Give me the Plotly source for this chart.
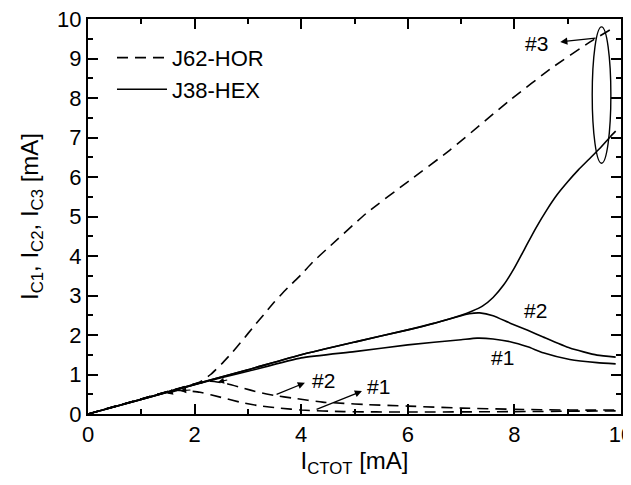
import plotly.graph_objects as go

# ---- data ----
# J38-HEX (solid)
hex3_x = [0, 1, 2, 3, 4, 5, 6, 6.5, 7.0, 7.2, 7.4, 7.6, 7.8, 8.0, 8.2, 8.4, 8.6, 8.8, 9.0, 9.2, 9.4, 9.6, 9.8, 9.9]
hex3_y = [0, 0.37, 0.75, 1.12, 1.5, 1.82, 2.13, 2.3, 2.5, 2.6, 2.73, 2.95, 3.27, 3.7, 4.2, 4.7, 5.15, 5.55, 5.88, 6.18, 6.45, 6.72, 7.02, 7.16]
hex2_x = [0, 1, 2, 3, 4, 5, 6, 6.5, 7.0, 7.15, 7.35, 7.6, 7.92, 8.25, 8.54, 9.04, 9.55, 9.9]
hex2_y = [0, 0.37, 0.75, 1.12, 1.5, 1.82, 2.13, 2.3, 2.49, 2.54, 2.56, 2.49, 2.3, 2.12, 1.95, 1.67, 1.49, 1.44]
hex1_x = [0, 1, 2, 2.5, 3, 4, 5, 6, 7, 7.3, 7.6, 7.92, 8.25, 8.54, 9.04, 9.55, 9.9]
hex1_y = [0, 0.37, 0.74, 0.92, 1.08, 1.42, 1.58, 1.75, 1.88, 1.92, 1.9, 1.83, 1.7, 1.55, 1.38, 1.3, 1.27]

# J62-HOR (dashed)
hor3_x = [0, 1, 1.9, 2.1, 2.3, 2.5, 2.7, 2.9, 3.1, 3.3, 3.5, 3.75, 4.0, 4.22, 4.5, 5.23, 6.04, 6.79, 7.92, 8.72, 9.42, 9.79]
hor3_y = [0, 0.38, 0.72, 0.81, 1.0, 1.26, 1.55, 1.87, 2.2, 2.52, 2.84, 3.2, 3.53, 3.85, 4.2, 5.09, 5.92, 6.68, 7.95, 8.78, 9.42, 9.72]
hor2_x = [0, 1, 2, 2.3, 2.6, 2.9, 3.2, 3.5, 3.85, 4.4, 4.8, 5.2, 6, 7, 8, 9, 10]
hor2_y = [0, 0.38, 0.76, 0.83, 0.77, 0.66, 0.55, 0.47, 0.4, 0.3, 0.27, 0.24, 0.2, 0.15, 0.12, 0.1, 0.1]
hor1_x = [0, 1, 1.6, 1.9, 2.1, 2.5, 2.85, 3.2, 3.6, 4.0, 4.8, 6, 8, 10]
hor1_y = [0, 0.38, 0.6, 0.58, 0.55, 0.42, 0.3, 0.21, 0.15, 0.1, 0.06, 0.05, 0.06, 0.08]

x_ticks = [0, 2, 4, 6, 8, 10]
y_ticks = [0, 1, 2, 3, 4, 5, 6, 7, 8, 9, 10]

# dashed-branch labels: text, label pos, arrow head, arrow tail (on the curve)
labels = [
    ("#1", 5.45, 0.7, 5.14, 0.58, 4.26, 0.1),
    ("#2", 4.42, 0.85, 4.07, 0.79, 3.51, 0.48),
    ("#3", 8.42, 9.39, 8.86, 9.42, 9.55, 9.52),
]
solid_labels = [("#2", 8.4, 2.63), ("#1", 7.78, 1.42)]
ellipse = (9.46, 6.35, 9.81, 9.8)

FONT = "Liberation Sans, Arial, sans-serif"
DASH = "11px,7px"
LW = 1.6
BODY = 8  # default page body margin offsets the figure

fig = go.Figure()
for i, (xs, ys) in enumerate([(hor3_x, hor3_y), (hor2_x, hor2_y), (hor1_x, hor1_y)]):
    fig.add_trace(go.Scatter(x=xs, y=ys, mode="lines", name="J62-HOR",
                             line=dict(color="black", width=LW, dash=DASH, shape="spline", smoothing=0.5),
                             showlegend=(i == 0), legendgroup="hor"))
for i, (xs, ys) in enumerate([(hex3_x, hex3_y), (hex2_x, hex2_y), (hex1_x, hex1_y)]):
    fig.add_trace(go.Scatter(x=xs, y=ys, mode="lines", name="J38-HEX",
                             line=dict(color="black", width=LW, shape="spline", smoothing=0.5),
                             showlegend=(i == 0), legendgroup="hex"))

ann = []
for txt, lx, ly, hx, hy, tx, ty in labels:
    ann.append(dict(x=lx, y=ly, text=txt, showarrow=False, font=dict(size=21, family=FONT, color="black"),
                    xanchor="center", yanchor="middle"))
    ann.append(dict(x=hx, y=hy, ax=tx, ay=ty, axref="x", ayref="y", xref="x", yref="y",
                    text="", showarrow=True, arrowhead=2, arrowsize=1.1,
                    arrowwidth=1.3, arrowcolor="black"))
for txt, lx, ly in solid_labels:
    ann.append(dict(x=lx, y=ly, text=txt, showarrow=False, font=dict(size=21, family=FONT, color="black")))
# small direction arrowheads on the low-current branches
for px, py, dx, dy in [(1.48, 0.52, 0.22, 0.08), (1.73, 0.59, 0.22, 0.02), (2.44, 0.81, 0.2, 0.06)]:
    ann.append(dict(x=px, y=py, ax=px + dx, ay=py + dy, axref="x", ayref="y", xref="x", yref="y",
                    text="", showarrow=True, arrowhead=2, arrowsize=1, arrowwidth=1.2, arrowcolor="black"))

fig.add_shape(type="circle", xref="x", yref="y", x0=ellipse[0], y0=ellipse[1], x1=ellipse[2], y1=ellipse[3],
              line=dict(color="black", width=1.4))

axis_common = dict(showline=True, linecolor="black", linewidth=2, mirror="ticks", ticks="inside",
                   tickcolor="black", tickwidth=1.6, ticklen=10, showgrid=False, zeroline=False,
                   automargin=False, ticklabeloverflow="allow",
                   tickfont=dict(size=22, family=FONT, color="black"))
fig.update_xaxes(range=[0, 10], tickvals=x_ticks, ticktext=[str(v) for v in x_ticks],
                 minor=dict(dtick=1, ticks="inside", ticklen=5, tickcolor="black", tickwidth=1.6),
                 title=dict(text="I<sub>CTOT</sub> [mA]", font=dict(size=24, family=FONT, color="black"), standoff=0),
                 **axis_common)
fig.update_yaxes(range=[0, 10], tickvals=y_ticks, ticktext=[str(v) for v in y_ticks],
                 minor=dict(dtick=0.5, ticks="inside", ticklen=5, tickcolor="black", tickwidth=1.6),
                 title=dict(text="I<sub>C1</sub>, I<sub>C2</sub>, I<sub>C3</sub> [mA]",
                            font=dict(size=24, family=FONT, color="black"), standoff=12),
                 **axis_common)

fig.update_layout(width=631 - BODY, height=485 - BODY,
                  margin=dict(l=88 - BODY, r=10, t=19 - BODY, b=71, pad=0),
                  plot_bgcolor="white", paper_bgcolor="white",
                  font=dict(family=FONT, color="black"),
                  annotations=ann,
                  legend=dict(x=0.045, y=0.955, xanchor="left", yanchor="top", bgcolor="rgba(0,0,0,0)",
                              font=dict(size=22, family=FONT, color="black"), tracegroupgap=0,
                              itemwidth=50))
fig.write_html("out.html")
